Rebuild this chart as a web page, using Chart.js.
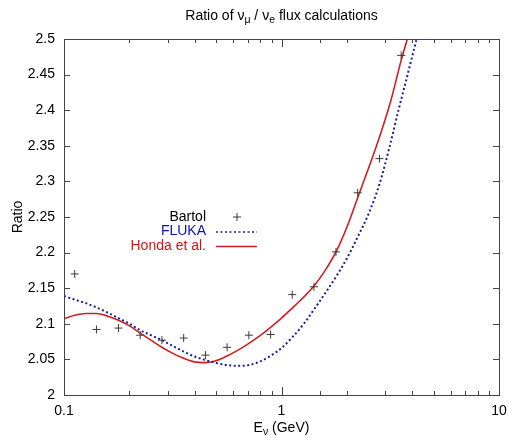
<!DOCTYPE html>
<html>
<head>
<meta charset="utf-8">
<script src="https://cdn.jsdelivr.net/npm/chart.js@4.4.0/dist/chart.umd.min.js"></script>
<style>
  body { margin: 0; background: #fff; }
  #wrap { width: 508px; height: 438px; }
</style>
</head>
<body>
<div id="wrap"><canvas id="ratioChart" width="508" height="438"></canvas></div>
<script>
// Bartol (points)
const energyBartol = [0.112, 0.141, 0.178, 0.224, 0.282, 0.355, 0.447, 0.562, 0.708, 0.891, 1.12, 1.41, 1.78, 2.24, 2.82, 3.55];
const ratioBartol = [2.170, 2.092, 2.094, 2.084, 2.077, 2.080, 2.056, 2.067, 2.084, 2.085, 2.141, 2.152, 2.201, 2.284, 2.332, 2.477];

// FLUKA (blue dotted)
const energyFluka = [0.1, 0.112, 0.126, 0.141, 0.158, 0.178, 0.2, 0.224, 0.251, 0.282, 0.316, 0.355, 0.398, 0.447, 0.5, 0.562, 0.631, 0.708, 0.794, 0.891, 1.0, 1.12, 1.26, 1.41, 1.58, 1.78, 2.0, 2.24, 2.51, 2.82, 3.16, 3.45, 3.8, 4.18];
const ratioFluka = [2.139, 2.134, 2.129, 2.123, 2.116, 2.108, 2.100, 2.091, 2.084, 2.077, 2.069, 2.061, 2.054, 2.049, 2.045, 2.042, 2.041, 2.042, 2.047, 2.055, 2.066, 2.081, 2.099, 2.120, 2.142, 2.166, 2.192, 2.222, 2.254, 2.296, 2.352, 2.400, 2.450, 2.500];

// Honda et al. (red solid)
const energyHonda = [0.1, 0.112, 0.126, 0.141, 0.158, 0.178, 0.2, 0.224, 0.251, 0.282, 0.316, 0.355, 0.398, 0.447, 0.5, 0.562, 0.631, 0.708, 0.794, 0.891, 1.0, 1.12, 1.26, 1.41, 1.58, 1.78, 2.0, 2.24, 2.51, 2.82, 3.16, 3.55, 3.79];
const ratioHonda = [2.107, 2.112, 2.1145, 2.1145, 2.111, 2.105, 2.097, 2.087, 2.077, 2.067, 2.0585, 2.0515, 2.0465, 2.0455, 2.048, 2.0548, 2.063, 2.0726, 2.083, 2.095, 2.108, 2.122, 2.137, 2.153, 2.174, 2.201, 2.236, 2.277, 2.318, 2.362, 2.410, 2.470, 2.500];

const xTickLabels = [0.1, 1, 10];

const FONT = '"Liberation Sans", Arial, Helvetica, sans-serif';
const toXY = (xs, ys) => xs.map((x, i) => ({ x: x, y: ys[i] }));

// draws a text made of normal and subscript parts, centered on cx
function drawRich(ctx, parts, cx, baseline) {
    const main = '14px ' + FONT, sub = '10.5px ' + FONT;
    let total = 0;
    parts.forEach(p => { ctx.font = p.sub ? sub : main; total += ctx.measureText(p.t).width; });
    let x = cx - total / 2;
    ctx.textAlign = 'left';
    ctx.textBaseline = 'alphabetic';
    parts.forEach(p => {
        ctx.font = p.sub ? sub : main;
        ctx.fillText(p.t, x, p.sub ? baseline + 3 : baseline);
        x += ctx.measureText(p.t).width;
    });
}

const framePlugin = {
    id: 'frame',
    afterDraw(chart) {
        const { ctx, chartArea: a, scales } = chart;
        ctx.save();
        ctx.strokeStyle = '#444';
        ctx.lineWidth = 1;
        ctx.beginPath();
        // x ticks (inward, bottom and top)
        scales.x.ticks.forEach(t => {
            const px = Math.round(scales.x.getPixelForValue(t.value)) + 0.5;
            const lg = Math.log10(t.value);
            const len = Math.abs(lg - Math.round(lg)) < 1e-6 ? 8 : 4;
            ctx.moveTo(px, a.bottom); ctx.lineTo(px, a.bottom - len);
            ctx.moveTo(px, a.top); ctx.lineTo(px, a.top + len);
        });
        // y ticks (inward, left and right)
        scales.y.ticks.forEach(t => {
            const py = Math.round(scales.y.getPixelForValue(t.value)) + 0.5;
            ctx.moveTo(a.left, py); ctx.lineTo(a.left + 6, py);
            ctx.moveTo(a.right, py); ctx.lineTo(a.right - 6, py);
        });
        ctx.stroke();
        ctx.strokeRect(Math.round(a.left) + 0.5, Math.round(a.top) + 0.5,
            Math.round(a.right - a.left), Math.round(a.bottom - a.top));

        // title and x-axis title (with subscripts)
        ctx.fillStyle = '#000';
        const cx = (a.left + a.right) / 2;
        drawRich(ctx, [
            { t: 'Ratio of \u03BD' }, { t: '\u03BC', sub: true },
            { t: ' / \u03BD' }, { t: 'e', sub: true },
            { t: ' flux calculations' }
        ], cx, 20);
        drawRich(ctx, [{ t: 'E' }, { t: '\u03BD', sub: true }, { t: ' (GeV)' }], cx, 432);

        // legend: right-aligned text with sample on the right
        const rows = [217, 231.5, 246];
        chart.data.datasets.forEach((ds, i) => {
            const y = rows[i];
            ctx.font = '14px ' + FONT;
            ctx.textAlign = 'right';
            ctx.textBaseline = 'middle';
            ctx.fillStyle = ds.legendColor;
            ctx.fillText(ds.label, 206, y);
            ctx.strokeStyle = ds.borderColor;
            ctx.lineWidth = ds.showLine ? 1.3 : 1;
            ctx.setLineDash(ds.borderDash || []);
            ctx.beginPath();
            if (ds.showLine) {
                ctx.moveTo(216, y + 0.5); ctx.lineTo(257, y + 0.5);
            } else {
                ctx.moveTo(233, y); ctx.lineTo(241, y);
                ctx.moveTo(237, y - 4); ctx.lineTo(237, y + 4);
            }
            ctx.stroke();
            ctx.setLineDash([]);
        });
        ctx.restore();
    }
};

new Chart(document.getElementById('ratioChart'), {
    type: 'scatter',
    data: {
        datasets: [
            {
                label: 'Bartol',
                data: toXY(energyBartol, ratioBartol),
                showLine: false,
                pointStyle: 'cross',
                pointRadius: 4,
                borderColor: '#3a3a3a',
                backgroundColor: '#3a3a3a',
                borderWidth: 1,
                legendColor: '#000'
            },
            {
                label: 'FLUKA',
                data: toXY(energyFluka, ratioFluka),
                showLine: true,
                pointRadius: 0,
                borderColor: '#1c1c9c',
                borderWidth: 2,
                borderDash: [2, 2.5],
                cubicInterpolationMode: 'monotone',
                legendColor: '#1010b8'
            },
            {
                label: 'Honda et al.',
                data: toXY(energyHonda, ratioHonda),
                showLine: true,
                pointRadius: 0,
                borderColor: '#cc2020',
                borderWidth: 1.6,
                cubicInterpolationMode: 'monotone',
                legendColor: '#cc1818'
            }
        ]
    },
    options: {
        responsive: false,
        animation: false,
        layout: { padding: { top: 39, right: 9, left: 0, bottom: 0 } },
        plugins: {
            legend: { display: false },
            tooltip: { enabled: false },
            title: { display: false }
        },
        scales: {
            x: {
                type: 'logarithmic',
                min: 0.1,
                max: 10,
                grid: { display: false, drawTicks: false },
                border: { display: false },
                ticks: {
                    color: '#000',
                    font: { family: FONT, size: 14 },
                    padding: 8,
                    maxRotation: 0,
                    autoSkip: false,
                    callback: (v) => xTickLabels.some(t => Math.abs(t - v) < 1e-9) ? String(v) : ''
                },
                afterFit: (s) => { s.height = 43; s.paddingLeft = 0; s.paddingRight = 0; }
            },
            y: {
                min: 2,
                max: 2.5,
                grid: { display: false, drawTicks: false },
                border: { display: false },
                ticks: {
                    stepSize: 0.05,
                    color: '#000',
                    font: { family: FONT, size: 14 },
                    padding: 9,
                    callback: (v) => String(+v.toFixed(2))
                },
                title: {
                    display: true,
                    text: 'Ratio',
                    color: '#000',
                    font: { family: FONT, size: 14 },
                    padding: { top: 10, bottom: 0 }
                },
                afterFit: (s) => { s.width = 64; s.paddingTop = 0; s.paddingBottom = 0; }
            }
        }
    },
    plugins: [framePlugin]
});
</script>
</body>
</html>
